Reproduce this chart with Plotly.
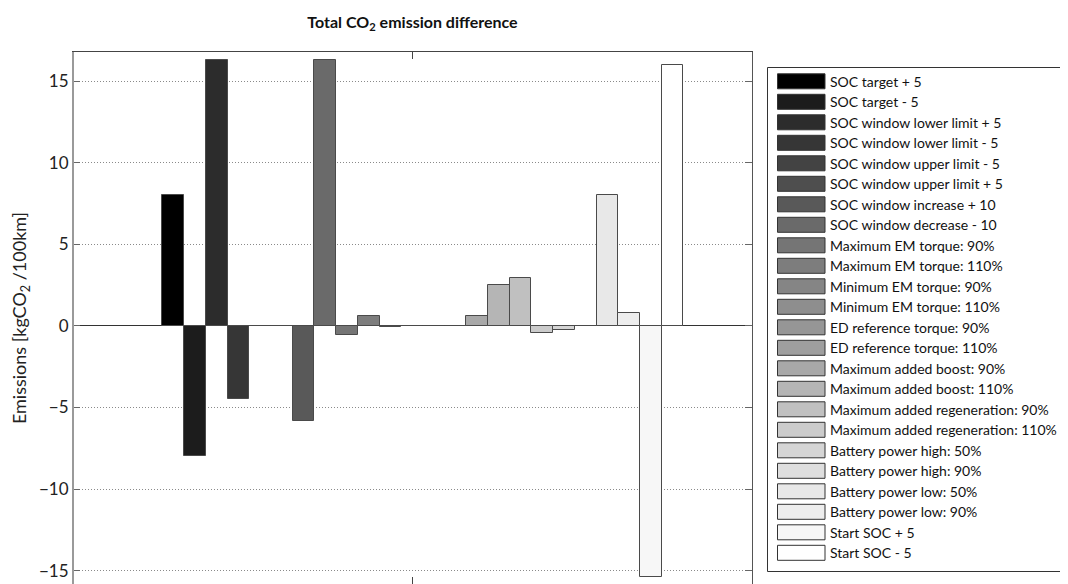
import plotly.graph_objects as go

# ---------------- data ----------------
series_names = [
    "SOC target + 5", "SOC target - 5",
    "SOC window lower limit + 5", "SOC window lower limit - 5",
    "SOC window upper limit - 5", "SOC window upper limit + 5",
    "SOC window increase + 10", "SOC window decrease - 10",
    "Maximum EM torque: 90%", "Maximum EM torque: 110%",
    "Minimum EM torque: 90%", "Minimum EM torque: 110%",
    "ED reference torque: 90%", "ED reference torque: 110%",
    "Maximum added boost: 90%", "Maximum added boost: 110%",
    "Maximum added regeneration: 90%", "Maximum added regeneration: 110%",
    "Battery power high: 50%", "Battery power high: 90%",
    "Battery power low: 50%", "Battery power low: 90%",
    "Start SOC + 5", "Start SOC - 5",
]
emission_diff = [8.0, -8.0, 16.3, -4.5, 0.0, 0.0, -5.85, 16.3,
                 -0.55, 0.6, -0.07, 0.0, 0.0, 0.0, 0.6, 2.5,
                 2.95, -0.45, -0.25, 0.0, 8.0, 0.78, -15.4, 16.0]
series_index = list(range(1, len(series_names) + 1))
y_ticks = [-15, -10, -5, 0, 5, 10, 15]

# ---------------- styles ----------------
gray_levels = [0, 28, 44, 54, 67, 78, 89, 106, 117, 125, 133, 142,
               150, 159, 168, 181, 192, 203, 213, 222, 232, 237, 247, 255]
colors = ["rgb(%d,%d,%d)" % (g, g, g) for g in gray_levels]

OFF = 8                      # page body margin
W, H = 1068 - OFF, 584 - OFF
L, R, T, B = 73 - OFF, 752 - OFF, 52 - OFF, 584 - OFF  # plot area (figure px)

fig = go.Figure()
fig.add_trace(go.Bar(
    x=series_index, y=emission_diff,
    marker=dict(color=colors, line=dict(color="#4a4a4a", width=1)),
    width=1, showlegend=False, hoverinfo="x+y",
))

def px_x(p):
    return (p - OFF - L) / (R - L)

def px_y(p):
    return (B - (p - OFF)) / (B - T)

font = "Lato, Open Sans, sans-serif"

shapes = []
annotations = []
# legend box
shapes.append(dict(type="rect", xref="paper", yref="paper",
                   x0=px_x(767.5), x1=px_x(1065.5), y0=px_y(571.5), y1=px_y(67.5),
                   line=dict(color="#333", width=1), fillcolor="white", layer="above"))
row0, pitch = 81.3, 20.5
for k, (name, col) in enumerate(zip(series_names, colors)):
    cy = row0 + pitch * k
    shapes.append(dict(type="rect", xref="paper", yref="paper",
                       x0=px_x(777.5), x1=px_x(825), y0=px_y(cy + 7.5), y1=px_y(cy - 7.5),
                       line=dict(color="#333", width=1), fillcolor=col, layer="above"))
    annotations.append(dict(xref="paper", yref="paper", x=px_x(828), y=px_y(cy),
                            xanchor="left", yanchor="middle", text=name, showarrow=False,
                            font=dict(family=font, size=14, color="#111")))

# light-gray left axis line (as in the reference)
shapes.append(dict(type="line", xref="paper", yref="paper", x0=0, x1=0, y0=0, y1=1,
                   line=dict(color="#9a9a9a", width=2), layer="above"))

fig.update_layout(
    width=W, height=H,
    margin=dict(l=L, r=W - R, t=T, b=H - B, autoexpand=False),
    paper_bgcolor="white", plot_bgcolor="white",
    bargap=0,
    title=dict(text="<b>Total CO<sub>2</sub> emission difference</b>",
               x=0.5, xref="paper", xanchor="center", y=1 - 14 / H, yanchor="middle",
               font=dict(family=font, size=16, color="#111")),
    xaxis=dict(range=[-3.62, 27.66], tickvals=[12], showticklabels=False,
               ticks="inside", ticklen=7, tickcolor="#444", automargin=False,
               showgrid=False, zeroline=False,
               showline=True, linecolor="#444", linewidth=1, mirror="ticks"),
    yaxis=dict(range=[-15.82, 16.78], tickvals=y_ticks, automargin=False,
               ticks="inside", ticklen=7, tickcolor="#666",
               showgrid=True, gridcolor="#8a8a8a", griddash="1px,2px", gridwidth=1,
               zeroline=True, zerolinecolor="#333", zerolinewidth=1,
               showline=True, linecolor="#555", linewidth=1, mirror="ticks",
               tickfont=dict(family=font, size=17, color="#222"),
               title=dict(text="Emissions [kgCO<sub>2</sub> /100km]", standoff=9,
                          font=dict(family=font, size=18, color="#222"))),
    shapes=shapes, annotations=annotations,
)

fig.write_html("out.html")
